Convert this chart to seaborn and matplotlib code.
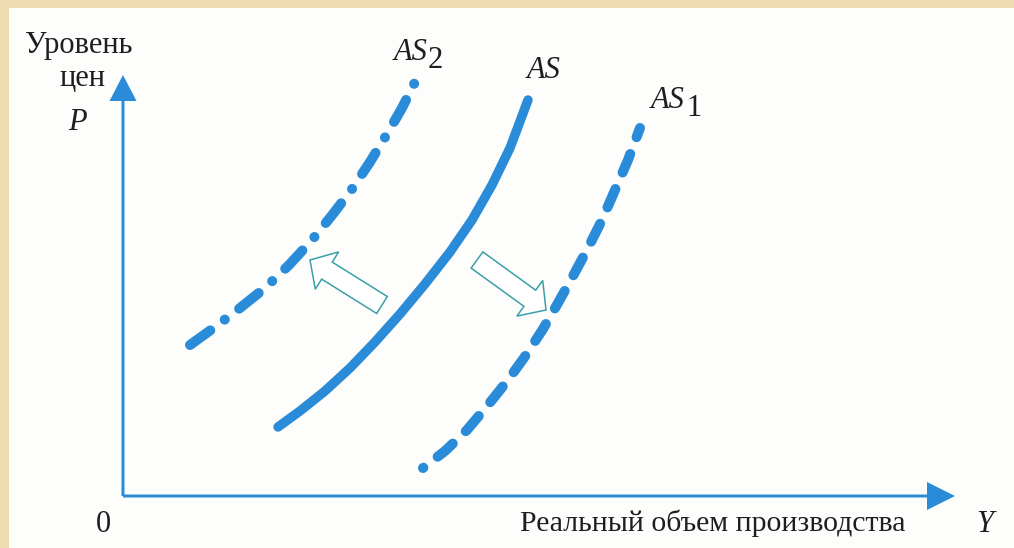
import numpy as np
import pandas as pd
import seaborn as sns
import matplotlib.pyplot as plt
from matplotlib.patches import FancyArrow

as_x = [15.5, 17.7, 20.2, 22.7, 25.2, 27.7, 30.2, 32.7, 34.9, 36.9, 38.7, 40.5]
as_y = [6.9, 8.5, 10.5, 12.8, 15.4, 18.2, 21.2, 24.4, 27.6, 31.1, 34.8, 39.6]

as2_x = [6.7, 9.2, 11.7, 14.2, 16.6, 18.9, 21.0, 22.9, 24.7, 26.4, 27.9, 29.2]
as2_y = [15.1, 16.9, 18.8, 20.8, 23.1, 25.6, 28.2, 30.7, 33.4, 36.2, 38.8, 41.4]

as1_x = [30.0, 32.2, 34.4, 36.5, 38.5, 40.3, 42.0, 43.5, 45.0, 46.5, 47.9, 49.2, 50.5, 51.7]
as1_y = [2.8, 4.5, 6.6, 9.1, 11.6, 14.1, 16.7, 19.3, 22.0, 24.8, 27.6, 30.6, 33.6, 36.8]

# shift arrows: (tail, tip)
shift_left = [(25.9, 19.1), (18.7, 23.6)]
shift_right = [(35.4, 23.6), (42.3, 18.6)]

y_label = ["Уровень", "цен"]
x_label = "Реальный объем производства"

blue = "#2a8cd8"
teal = "#3c9fa8"

sns.set_theme(style="white")
plt.rcParams["font.family"] = ["Liberation Serif", "DejaVu Serif"]

fig = plt.figure(figsize=(10.14, 5.48), dpi=100)
fig.patch.set_facecolor("#eedbb0")
ax = fig.add_axes([9 / 1014, 0, 1005 / 1014, 540 / 548])
ax.set_facecolor("#fdfdfc")
ax.set_xlim(-11.4, 89.1)
ax.set_ylim(-5.2, 48.8)
ax.set_xticks([])
ax.set_yticks([])
sns.despine(ax=ax, left=True, bottom=True)

# axes with arrow heads
ax.add_patch(FancyArrow(0, 0, 0, 42.1, width=0.3, head_width=2.7, head_length=2.6,
                        length_includes_head=True, color=blue, lw=0))
ax.add_patch(FancyArrow(0, 0, 83.2, 0, width=0.3, head_width=2.8, head_length=2.8,
                        length_includes_head=True, color=blue, lw=0))

sns.lineplot(x=as_x, y=as_y, ax=ax, color=blue, linewidth=6.8, sort=False,
             estimator=None, solid_capstyle="round", solid_joinstyle="round")
sns.lineplot(x=as2_x, y=as2_y, ax=ax, color=blue, linewidth=7.2, sort=False,
             estimator=None, linestyle=(0, (2.5, 1.8, 0.01, 1.8)),
             dash_capstyle="round", dash_joinstyle="round")
sns.lineplot(x=as1_x, y=as1_y, ax=ax, color=blue, linewidth=7.2, sort=False,
             estimator=None, linestyle=(1.95, (2.0, 1.8)),
             dash_capstyle="round", dash_joinstyle="round")

for (x0, y0), (x1, y1) in [shift_left, shift_right]:
    ax.add_patch(FancyArrow(x0, y0, x1 - x0, y1 - y0, width=2.0, head_width=4.4,
                            head_length=2.0, length_includes_head=True,
                            facecolor="white", edgecolor=teal, lw=1.1))

txt = dict(color="#1e1e1e", fontsize=22)
ax.text(-4.4, 45.1, y_label[0], ha="center", va="center", **txt)
ax.text(-4.1, 41.8, y_label[1], ha="center", va="center", **txt)
ax.text(-4.6, 37.4, "P", ha="center", va="center", style="italic", **txt)
ax.text(-2.0, -2.9, "0", ha="center", va="center", **txt)
ax.text(39.7, -2.7, x_label, ha="left", va="center", color="#1e1e1e", fontsize=21.5)
ax.text(86.2, -2.9, "Y", ha="center", va="center", style="italic", **txt)

ax.text(30.5, 44.3, "AS", ha="right", va="center", style="italic", **txt)
ax.text(30.5, 43.5, "2", ha="left", va="center", **txt)
ax.text(42.1, 42.5, "AS", ha="center", va="center", style="italic", **txt)
ax.text(56.2, 39.5, "AS", ha="right", va="center", style="italic", **txt)
ax.text(56.3, 38.7, "1", ha="left", va="center", **txt)

fig.savefig("out.png", dpi=100, facecolor=fig.get_facecolor())
